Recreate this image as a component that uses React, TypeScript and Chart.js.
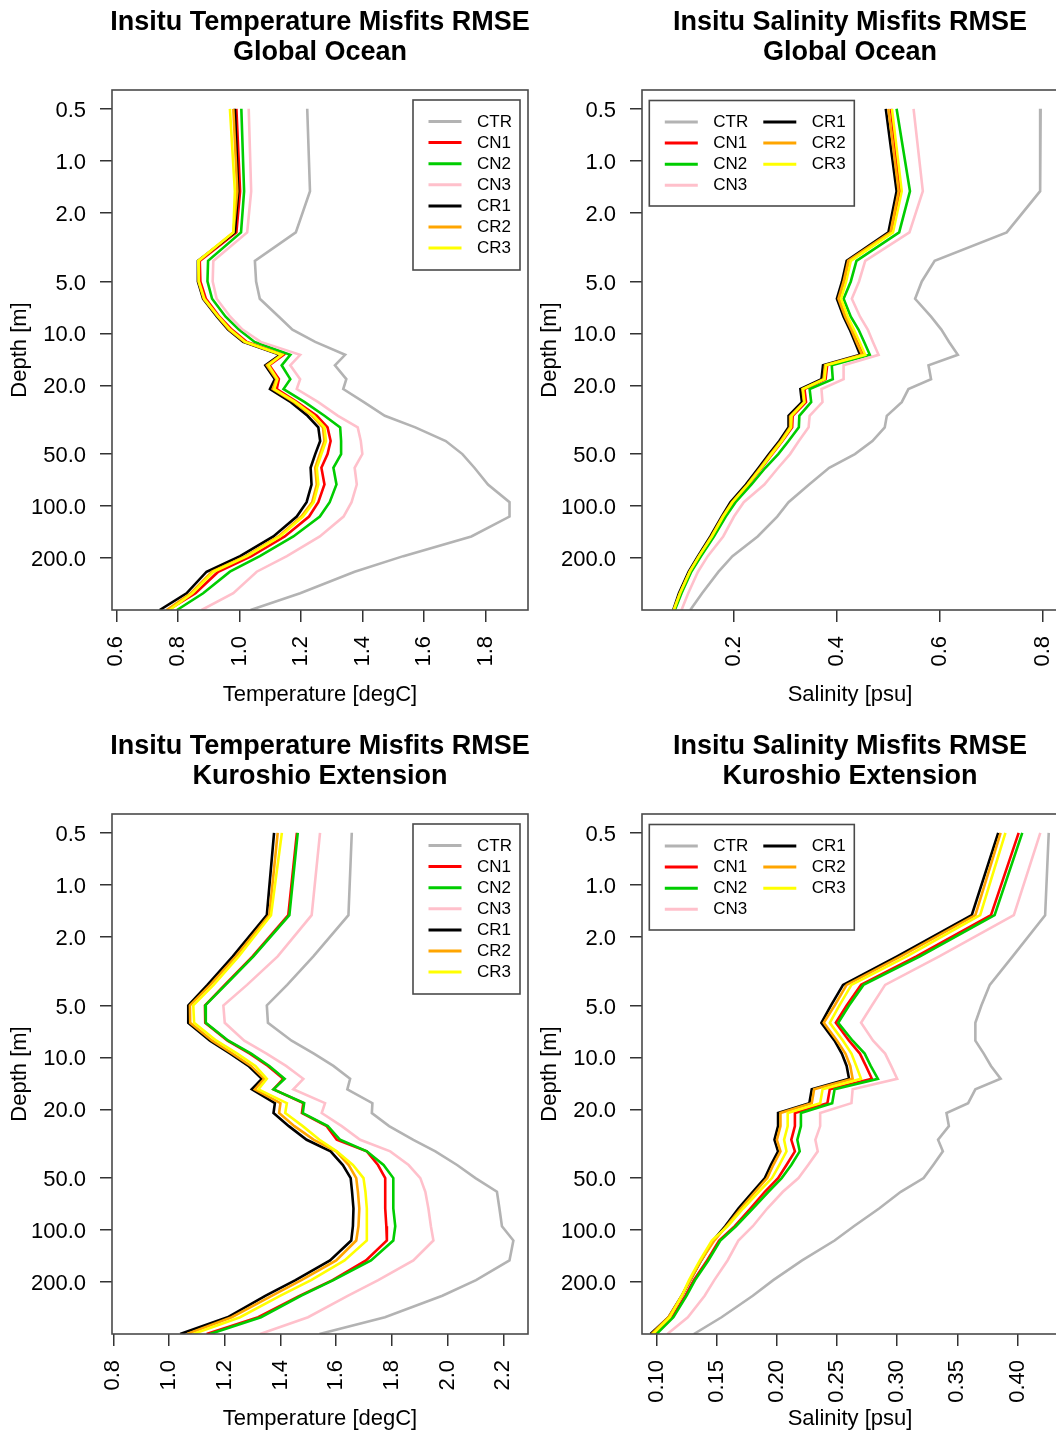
import React, { useEffect, useRef } from "react";
import { Chart, registerables } from "chart.js";

Chart.register(...registerables);

const FONT = "'Liberation Sans', Arial, Helvetica, sans-serif";

// ---------- shared data ----------
const depths = [0.5, 1.5, 2.6, 3.8, 5, 6.3, 8, 9.5, 11.2, 13.3, 15.3, 18.4, 21, 25, 30, 35, 42, 50, 60, 75, 95, 115, 150, 195, 240, 320, 400];
const seriesNames = ["CTR", "CN1", "CN2", "CN3", "CR1", "CR2", "CR3"];
const seriesColors = ["#b3b3b3", "#ff0000", "#00cd00", "#ffc0cb", "#000000", "#ffa500", "#ffff00"];
const depthTicks = [0.5, 1, 2, 5, 10, 20, 50, 100, 200];
const tempGlobalTicks = [0.6, 0.8, 1.0, 1.2, 1.4, 1.6, 1.8];
const salGlobalTicks = [0.2, 0.4, 0.6, 0.8];
const tempKuroTicks = [0.8, 1.0, 1.2, 1.4, 1.6, 1.8, 2.0, 2.2];
const salKuroTicks = [0.1, 0.15, 0.2, 0.25, 0.3, 0.35, 0.4];

// ---------- Panel 1: temperature, global ocean ----------
const tempGlobalCTR = [1.220, 1.229, 1.183, 1.050, 1.054, 1.066, 1.128, 1.172, 1.246, 1.343, 1.310, 1.347, 1.337, 1.404, 1.472, 1.571, 1.670, 1.724, 1.763, 1.807, 1.877, 1.877, 1.753, 1.532, 1.374, 1.197, 1.036];
const tempGlobalCN1 = [0.990, 1.002, 0.990, 0.871, 0.873, 0.891, 0.935, 0.975, 1.024, 1.143, 1.097, 1.128, 1.121, 1.187, 1.251, 1.286, 1.296, 1.286, 1.266, 1.276, 1.256, 1.226, 1.147, 1.039, 0.931, 0.857, 0.768];
const tempGlobalCN2 = [1.006, 1.015, 1.005, 0.898, 0.896, 0.911, 0.955, 0.998, 1.049, 1.165, 1.137, 1.165, 1.143, 1.212, 1.276, 1.327, 1.330, 1.330, 1.305, 1.315, 1.293, 1.261, 1.175, 1.066, 0.969, 0.882, 0.797];
const tempGlobalCN3 = [1.030, 1.038, 1.025, 0.915, 0.913, 0.926, 0.970, 1.010, 1.069, 1.197, 1.165, 1.197, 1.186, 1.256, 1.320, 1.384, 1.394, 1.399, 1.374, 1.381, 1.364, 1.338, 1.261, 1.154, 1.056, 0.980, 0.877];
const tempGlobalCR1 = [0.985, 0.996, 0.985, 0.865, 0.865, 0.882, 0.927, 0.963, 1.012, 1.132, 1.084, 1.115, 1.099, 1.167, 1.221, 1.256, 1.262, 1.246, 1.231, 1.234, 1.218, 1.186, 1.110, 1.002, 0.893, 0.828, 0.741];
const tempGlobalCR2 = [0.980, 0.993, 0.980, 0.867, 0.867, 0.884, 0.930, 0.966, 1.016, 1.136, 1.089, 1.120, 1.108, 1.177, 1.236, 1.271, 1.276, 1.261, 1.246, 1.251, 1.236, 1.201, 1.127, 1.020, 0.911, 0.842, 0.763];
const tempGlobalCR3 = [0.969, 0.985, 0.980, 0.866, 0.868, 0.886, 0.932, 0.970, 1.019, 1.138, 1.094, 1.123, 1.113, 1.182, 1.241, 1.276, 1.281, 1.266, 1.251, 1.256, 1.241, 1.206, 1.132, 1.025, 0.916, 0.847, 0.773];

// ---------- Panel 2: salinity, global ocean ----------
const salGlobalCTR = [0.796, 0.795, 0.730, 0.590, 0.565, 0.552, 0.583, 0.603, 0.618, 0.635, 0.578, 0.583, 0.539, 0.526, 0.497, 0.493, 0.469, 0.435, 0.385, 0.346, 0.306, 0.284, 0.246, 0.197, 0.170, 0.138, 0.115];
const salGlobalCN1 = [0.505, 0.523, 0.507, 0.425, 0.416, 0.406, 0.419, 0.431, 0.442, 0.453, 0.381, 0.378, 0.337, 0.340, 0.314, 0.313, 0.294, 0.274, 0.254, 0.228, 0.198, 0.180, 0.158, 0.133, 0.115, 0.096, 0.084];
const salGlobalCN2 = [0.516, 0.542, 0.521, 0.438, 0.427, 0.413, 0.427, 0.442, 0.453, 0.464, 0.390, 0.392, 0.347, 0.350, 0.327, 0.326, 0.306, 0.286, 0.261, 0.234, 0.203, 0.184, 0.161, 0.136, 0.117, 0.098, 0.085];
const salGlobalCN3 = [0.549, 0.567, 0.541, 0.455, 0.443, 0.429, 0.445, 0.460, 0.470, 0.481, 0.413, 0.413, 0.370, 0.372, 0.347, 0.345, 0.326, 0.309, 0.286, 0.259, 0.219, 0.200, 0.179, 0.149, 0.130, 0.111, 0.098];
const salGlobalCR1 = [0.495, 0.516, 0.500, 0.419, 0.410, 0.400, 0.413, 0.425, 0.435, 0.445, 0.373, 0.370, 0.329, 0.332, 0.306, 0.306, 0.288, 0.268, 0.248, 0.223, 0.193, 0.176, 0.154, 0.130, 0.112, 0.093, 0.082];
const salGlobalCR2 = [0.500, 0.520, 0.504, 0.422, 0.413, 0.403, 0.416, 0.428, 0.438, 0.449, 0.377, 0.374, 0.333, 0.336, 0.310, 0.309, 0.291, 0.271, 0.251, 0.226, 0.196, 0.178, 0.156, 0.132, 0.114, 0.095, 0.083];
const salGlobalCR3 = [0.507, 0.526, 0.509, 0.427, 0.418, 0.408, 0.421, 0.433, 0.444, 0.455, 0.379, 0.376, 0.334, 0.337, 0.312, 0.311, 0.293, 0.273, 0.253, 0.227, 0.197, 0.179, 0.157, 0.132, 0.114, 0.095, 0.083];

// ---------- Panel 3: temperature, Kuroshio Extension ----------
const tempKuroCTR = [1.656, 1.644, 1.518, 1.424, 1.351, 1.355, 1.44, 1.52, 1.59, 1.65, 1.64, 1.73, 1.728, 1.79, 1.877, 1.956, 2.034, 2.10, 2.177, 2.186, 2.195, 2.236, 2.222, 2.102, 1.981, 1.775, 1.54];
const tempKuroCN1 = [1.459, 1.428, 1.30, 1.20, 1.129, 1.13, 1.21, 1.29, 1.355, 1.41, 1.375, 1.482, 1.477, 1.566, 1.602, 1.71, 1.75, 1.776, 1.776, 1.776, 1.78, 1.782, 1.707, 1.587, 1.47, 1.32, 1.135];
const tempKuroCN2 = [1.462, 1.432, 1.303, 1.203, 1.13, 1.132, 1.213, 1.295, 1.36, 1.415, 1.375, 1.485, 1.48, 1.57, 1.614, 1.71, 1.77, 1.805, 1.805, 1.805, 1.812, 1.805, 1.725, 1.59, 1.475, 1.33, 1.147];
const tempKuroCN3 = [1.542, 1.512, 1.39, 1.28, 1.195, 1.2, 1.27, 1.35, 1.42, 1.482, 1.446, 1.56, 1.548, 1.62, 1.686, 1.794, 1.86, 1.902, 1.92, 1.931, 1.94, 1.949, 1.877, 1.751, 1.643, 1.499, 1.327];
const tempKuroCR1 = [1.377, 1.351, 1.229, 1.138, 1.069, 1.069, 1.147, 1.22, 1.285, 1.333, 1.297, 1.38, 1.375, 1.43, 1.494, 1.58, 1.624, 1.652, 1.657, 1.662, 1.66, 1.654, 1.578, 1.454, 1.347, 1.21, 1.04];
const tempKuroCR2 = [1.39, 1.36, 1.24, 1.148, 1.075, 1.076, 1.155, 1.228, 1.294, 1.342, 1.308, 1.40, 1.395, 1.45, 1.52, 1.60, 1.645, 1.672, 1.678, 1.683, 1.68, 1.672, 1.60, 1.475, 1.37, 1.225, 1.065];
const tempKuroCR3 = [1.405, 1.366, 1.25, 1.16, 1.087, 1.09, 1.17, 1.245, 1.31, 1.351, 1.321, 1.423, 1.417, 1.48, 1.54, 1.602, 1.66, 1.698, 1.705, 1.71, 1.71, 1.71, 1.63, 1.51, 1.40, 1.255, 1.087];

// ---------- Panel 4: salinity, Kuroshio Extension ----------
const salKuroCTR = [0.426, 0.423, 0.396, 0.377, 0.37, 0.365, 0.365, 0.372, 0.378, 0.386, 0.365, 0.359, 0.341, 0.343, 0.334, 0.338, 0.33, 0.322, 0.303, 0.285, 0.264, 0.248, 0.221, 0.197, 0.18, 0.154, 0.131];
const salKuroCN1 = [0.401, 0.378, 0.316, 0.27, 0.258, 0.249, 0.26, 0.269, 0.274, 0.279, 0.244, 0.242, 0.215, 0.215, 0.212, 0.215, 0.208, 0.201, 0.19, 0.178, 0.165, 0.152, 0.142, 0.131, 0.124, 0.113, 0.099];
const salKuroCN2 = [0.404, 0.381, 0.319, 0.272, 0.26, 0.251, 0.263, 0.273, 0.278, 0.284, 0.248, 0.246, 0.22, 0.22, 0.217, 0.219, 0.212, 0.204, 0.193, 0.18, 0.166, 0.153, 0.143, 0.132, 0.125, 0.114, 0.1];
const salKuroCN3 = [0.419, 0.397, 0.335, 0.29, 0.279, 0.27, 0.28, 0.29, 0.295, 0.3, 0.263, 0.262, 0.236, 0.236, 0.232, 0.234, 0.226, 0.218, 0.205, 0.192, 0.18, 0.168, 0.159, 0.148, 0.14, 0.126, 0.109];
const salKuroCR1 = [0.384, 0.362, 0.30, 0.255, 0.245, 0.237, 0.248, 0.254, 0.258, 0.26, 0.229, 0.227, 0.201, 0.201, 0.198, 0.201, 0.195, 0.19, 0.18, 0.168, 0.157, 0.147, 0.137, 0.128, 0.121, 0.11, 0.095];
const salKuroCR2 = [0.386, 0.365, 0.303, 0.258, 0.248, 0.239, 0.25, 0.257, 0.261, 0.263, 0.231, 0.229, 0.203, 0.203, 0.2, 0.203, 0.197, 0.192, 0.182, 0.17, 0.158, 0.148, 0.137, 0.128, 0.121, 0.11, 0.096];
const salKuroCR3 = [0.39, 0.369, 0.308, 0.262, 0.252, 0.244, 0.255, 0.262, 0.266, 0.27, 0.238, 0.236, 0.209, 0.209, 0.206, 0.208, 0.202, 0.196, 0.185, 0.172, 0.159, 0.146, 0.136, 0.127, 0.121, 0.111, 0.097];

type PanelSpec = {
  title1: string;
  title2: string;
  xTitle: string;
  xMin: number;
  xMax: number;
  xTicks: number[];
  xDecimals: number;
  series: number[][];
  legendCols: 1 | 2;
};

const panels: { spec: PanelSpec; left: number; top: number }[] = [
  {
    left: 0,
    top: 0,
    spec: {
      title1: "Insitu Temperature Misfits RMSE",
      title2: "Global Ocean",
      xTitle: "Temperature [degC]",
      xMin: 0.586,
      xMax: 1.937,
      xTicks: tempGlobalTicks,
      xDecimals: 1,
      series: [tempGlobalCTR, tempGlobalCN1, tempGlobalCN2, tempGlobalCN3, tempGlobalCR1, tempGlobalCR2, tempGlobalCR3],
      legendCols: 1,
    },
  },
  {
    left: 530,
    top: 0,
    spec: {
      title1: "Insitu Salinity Misfits RMSE",
      title2: "Global Ocean",
      xTitle: "Salinity [psu]",
      xMin: 0.0212,
      xMax: 0.8297,
      xTicks: salGlobalTicks,
      xDecimals: 1,
      series: [salGlobalCTR, salGlobalCN1, salGlobalCN2, salGlobalCN3, salGlobalCR1, salGlobalCR2, salGlobalCR3],
      legendCols: 2,
    },
  },
  {
    left: 0,
    top: 724,
    spec: {
      title1: "Insitu Temperature Misfits RMSE",
      title2: "Kuroshio Extension",
      xTitle: "Temperature [degC]",
      xMin: 0.7953,
      xMax: 2.2885,
      xTicks: tempKuroTicks,
      xDecimals: 1,
      series: [tempKuroCTR, tempKuroCN1, tempKuroCN2, tempKuroCN3, tempKuroCR1, tempKuroCR2, tempKuroCR3],
      legendCols: 1,
    },
  },
  {
    left: 530,
    top: 724,
    spec: {
      title1: "Insitu Salinity Misfits RMSE",
      title2: "Kuroshio Extension",
      xTitle: "Salinity [psu]",
      xMin: 0.0879,
      xMax: 0.4337,
      xTicks: salKuroTicks,
      xDecimals: 2,
      series: [salKuroCTR, salKuroCN1, salKuroCN2, salKuroCN3, salKuroCR1, salKuroCR2, salKuroCR3],
      legendCols: 2,
    },
  },
];

const CANVAS_W = 540;
const CANVAS_H = 718;

const decorPlugin = {
  id: "panelDecor",
  afterDraw(chart: any, _args: any, opts: any) {
    const ctx = chart.ctx as CanvasRenderingContext2D;
    const ca = chart.chartArea;
    ctx.save();
    // plot box
    ctx.strokeStyle = "#4a4a4a";
    ctx.lineWidth = 1.6;
    ctx.strokeRect(ca.left, ca.top, ca.right - ca.left, ca.bottom - ca.top);

    const cx = (ca.left + ca.right) / 2;
    ctx.fillStyle = "#000";
    ctx.textAlign = "center";
    ctx.textBaseline = "middle";
    ctx.font = `bold 27px ${FONT}`;
    ctx.fillText(opts.title1, cx, 23);
    ctx.fillText(opts.title2, cx, 53);

    ctx.font = `22px ${FONT}`;
    ctx.fillText(opts.xTitle, cx, 695);
    ctx.save();
    ctx.translate(20, (ca.top + ca.bottom) / 2);
    ctx.rotate(-Math.PI / 2);
    ctx.fillText("Depth [m]", 0, 0);
    ctx.restore();

    // legend
    const ds = chart.data.datasets;
    const rowGap = 21.1;
    let bx: number, by: number, bw: number, bh: number;
    if (opts.legendCols === 1) {
      bw = 107;
      bh = 170;
      bx = ca.right - 8 - bw;
      by = ca.top + 10;
    } else {
      bw = 205;
      bh = 105.5;
      bx = ca.left + 7.3;
      by = ca.top + 10.5;
    }
    ctx.fillStyle = "#fff";
    ctx.fillRect(bx, by, bw, bh);
    ctx.strokeStyle = "#4a4a4a";
    ctx.lineWidth = 1.6;
    ctx.strokeRect(bx, by, bw, bh);
    ctx.font = `17px ${FONT}`;
    ctx.textAlign = "left";
    ctx.textBaseline = "middle";
    ds.forEach((d: any, i: number) => {
      let col = 0;
      let row = i;
      if (opts.legendCols === 2 && i >= 4) {
        col = 1;
        row = i - 4;
      }
      const rowY = by + 21.5 + row * rowGap;
      const lineX = bx + 15.5 + col * 98.5;
      ctx.strokeStyle = d.borderColor;
      ctx.lineWidth = 3;
      ctx.beginPath();
      ctx.moveTo(lineX, rowY);
      ctx.lineTo(lineX + 33, rowY);
      ctx.stroke();
      ctx.fillStyle = "#000";
      ctx.fillText(d.label, lineX + 48.5, rowY + 0.5);
    });
    ctx.restore();
  },
};

function zeroPadding(s: any) {
  s.paddingLeft = 0;
  s.paddingRight = 0;
  s.paddingTop = 0;
  s.paddingBottom = 0;
}

function makeConfig(spec: PanelSpec): any {
  return {
    type: "line",
    data: {
      datasets: seriesNames.map((name, i) => ({
        label: name,
        data: depths.map((d, k) => ({ x: spec.series[i][k], y: d })),
        borderColor: seriesColors[i],
        backgroundColor: seriesColors[i],
        borderWidth: 2.6,
        pointRadius: 0,
        pointHoverRadius: 0,
        fill: false,
        tension: 0,
        order: seriesNames.length - 1 - i,
      })),
    },
    options: {
      responsive: false,
      animation: false,
      events: [],
      indexAxis: "y",
      layout: { padding: { left: 12, right: 12, top: 90, bottom: 8 } },
      plugins: {
        legend: { display: false },
        tooltip: { enabled: false },
        title: { display: false },
        panelDecor: {
          title1: spec.title1,
          title2: spec.title2,
          xTitle: spec.xTitle,
          legendCols: spec.legendCols,
        },
      },
      scales: {
        x: {
          type: "linear",
          position: "bottom",
          min: spec.xMin,
          max: spec.xMax,
          afterBuildTicks: (s: any) => {
            s.ticks = spec.xTicks.map((v) => ({ value: v }));
          },
          afterFit: (s: any) => {
            s.height = 100;
            zeroPadding(s);
          },
          ticks: {
            autoSkip: false,
            maxRotation: 90,
            minRotation: 90,
            padding: 14,
            color: "#000",
            font: { family: FONT, size: 22 },
            callback: (v: any) => Number(v).toFixed(spec.xDecimals),
          },
          grid: {
            display: true,
            drawOnChartArea: false,
            drawTicks: true,
            tickLength: 12,
            color: "#333",
            lineWidth: 1.5,
          },
          border: { display: false },
        },
        y: {
          type: "logarithmic",
          position: "left",
          reverse: true,
          min: 0.389,
          max: 400,
          afterBuildTicks: (s: any) => {
            s.ticks = depthTicks.map((v) => ({ value: v }));
          },
          afterFit: (s: any) => {
            s.width = 100;
            zeroPadding(s);
          },
          ticks: {
            autoSkip: false,
            padding: 14,
            labelOffset: 2,
            color: "#000",
            font: { family: FONT, size: 22 },
            callback: (v: any) => Number(v).toFixed(1),
          },
          grid: {
            display: true,
            drawOnChartArea: false,
            drawTicks: true,
            tickLength: 12,
            color: "#333",
            lineWidth: 1.5,
          },
          border: { display: false },
        },
      },
    },
    plugins: [decorPlugin],
  };
}

function Panel({ spec, left, top }: { spec: PanelSpec; left: number; top: number }) {
  const ref = useRef<HTMLCanvasElement>(null);
  useEffect(() => {
    if (!ref.current) return;
    const chart = new Chart(ref.current, makeConfig(spec));
    return () => chart.destroy();
  }, [spec]);
  return (
    <canvas
      ref={ref}
      width={CANVAS_W}
      height={CANVAS_H}
      style={{ position: "absolute", left, top, width: CANVAS_W, height: CANVAS_H }}
    />
  );
}

export default function App() {
  return (
    <div
      style={{
        position: "absolute",
        left: 0,
        top: 0,
        width: 1056,
        height: 1437,
        overflow: "hidden",
        background: "#fff",
      }}
    >
      {panels.map((p, i) => (
        <Panel key={i} spec={p.spec} left={p.left} top={p.top} />
      ))}
    </div>
  );
}
